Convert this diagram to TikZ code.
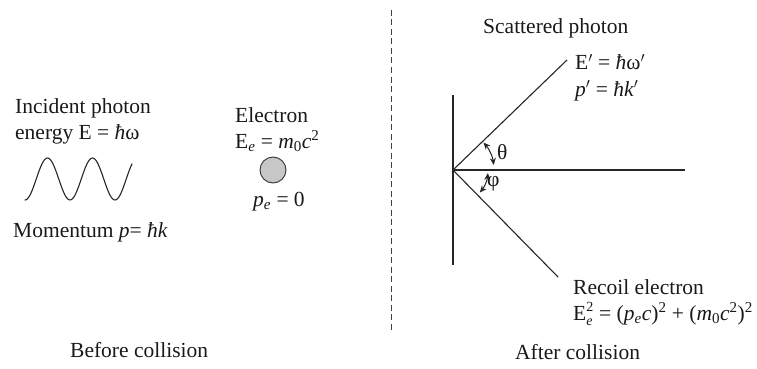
\documentclass[tikz,border=0pt]{standalone}
\usepackage{fontspec}
\setmainfont{Liberation Serif}
\usetikzlibrary{arrows.meta,calc}
\begin{document}
\begin{tikzpicture}[x=1pt,y=-1pt,
  lbl/.style={anchor=west,inner sep=0pt,font=\fontsize{21.5}{25}\selectfont,text=black!90},
  stroke/.style={line width=1.1pt,draw=black!85},
  angarrow/.style={line width=1pt,draw=black!85,{Stealth[length=7pt,width=6pt]}-{Stealth[length=7pt,width=6pt]}}]
\useasboundingbox (0,0) rectangle (757,369);
% before
\node[lbl] (inc1) at (15,108) {Incident photon};
\node[lbl] (inc2) at (15,134) {energy E = \textit{ħ}ω};
\draw[stroke,line cap=round] plot[domain=25:132,samples=90,smooth] (\x,{179+21*cos(8*(\x-25))});
\node[lbl] (mom) at (13,232) {Momentum \textit{p}= \textit{ħk}};
\node[lbl] (elec) at (235,115) {Electron};
\node[lbl] (ee) at (235,141) {E\textsubscript{\textit{e}} = \textit{m}\textsubscript{0}\textit{c}\textsuperscript{2}};
\node[circle,draw=black!80,line width=0.9pt,fill=black!22,minimum size=26pt,inner sep=0pt] (ball) at (273,170) {};
\node[lbl] (pe) at (253,202) {\textit{p}\textsubscript{\textit{e}} = 0};
\node[lbl] (before) at (70,350) {Before collision};
% divider
\coordinate (dtop) at (391,10);
\coordinate (dbot) at (391,332);
\draw[line width=1pt,draw=black!75,dash pattern=on 6pt off 3.5pt] (dtop) -- (dbot);
% after
\coordinate (O) at (453,170);
\coordinate (vt) at (453,95);
\coordinate (vb) at (453,265);
\coordinate (hE) at (685,170);
\coordinate (up) at (567,60);
\coordinate (dn) at (558,277);
\draw[stroke] (vt) -- (vb);
\draw[stroke] (O) -- (hE);
\draw[stroke] (O) -- (up);
\draw[stroke] (O) -- (dn);
\draw[angarrow] ($(O)+(-42:41)$) arc[start angle=-42,end angle=-7,radius=41];
\draw[angarrow] ($(O)+(5:35)$) arc[start angle=5,end angle=40,radius=35];
\node[lbl] (th) at (497,152) {θ};
\node[lbl] (ph) at (487,184) {φ};
\node[lbl] (scat) at (483,28) {Scattered photon};
\node[lbl] (ep) at (575,62) {E$'$ = \textit{ħ}ω$'$};
\node[lbl] (pp) at (575,91) {\textit{p}$'$ = \textit{ħk}$'$};
\node[lbl] (rec) at (573,287) {Recoil electron};
\node[lbl] (ee2) at (573,314) {$\mbox{E}^{\mbox{\fontsize{14}{14}\selectfont 2}}_{\mbox{\fontsize{14}{14}\selectfont\itshape e}}$ = (\textit{p}\textsubscript{\textit{e}}\textit{c})\textsuperscript{2} + (\textit{m}\textsubscript{0}\textit{c}\textsuperscript{2})\textsuperscript{2}};
\node[lbl] (after) at (515,352) {After collision};
\end{tikzpicture}
\end{document}
